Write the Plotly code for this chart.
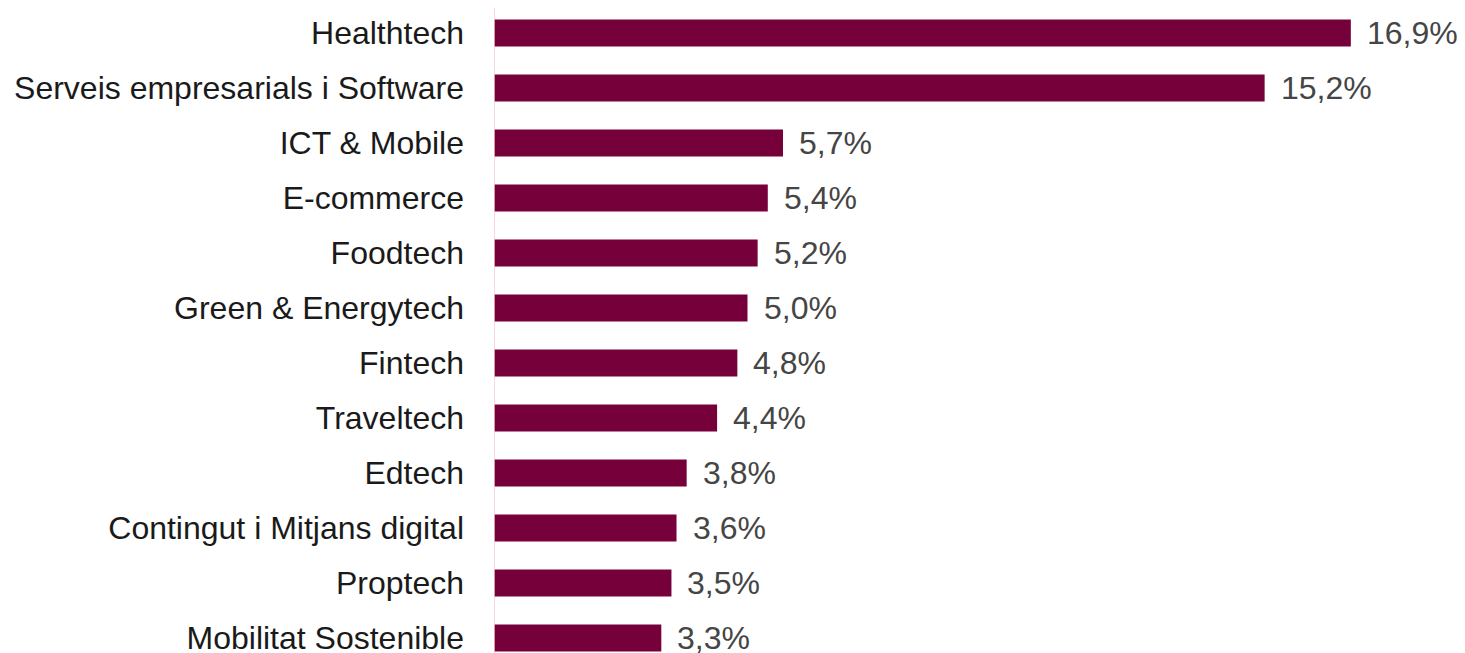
import plotly.graph_objects as go

categories = ["Healthtech", "Serveis empresarials i Software", "ICT & Mobile", "E-commerce",
              "Foodtech", "Green & Energytech", "Fintech", "Traveltech", "Edtech",
              "Contingut i Mitjans digital", "Proptech", "Mobilitat Sostenible"]
values = [16.9, 15.2, 5.7, 5.4, 5.2, 5.0, 4.8, 4.4, 3.8, 3.6, 3.5, 3.3]
value_labels = [f"{v:.1f}".replace(".", ",") + "%" for v in values]

W, H = 1457, 645
x0_px = 486
px_per_unit = 50.7
row_px = 55.0
top_center_px = 25.0
bar_color = "#76003a"

fig = go.Figure(go.Bar(
    x=values, y=categories, orientation="h",
    marker=dict(color=bar_color, line=dict(width=0)),
    width=0.49, hoverinfo="skip",
))

for c, v, t in zip(categories, values, value_labels):
    fig.add_annotation(x=v, y=c, text=t, showarrow=False, xanchor="left", yanchor="middle",
                       xshift=14, font=dict(family="Liberation Sans, Arial", size=32, color="#454545"))

fig.add_shape(type="line", xref="x", yref="paper", x0=0, x1=0, y0=0, y1=1,
              line=dict(color="#f7cdd3", width=1.5))

y_top = -top_center_px / row_px
y_bot = y_top + H / row_px

fig.update_layout(
    width=W, height=H,
    margin=dict(l=x0_px, r=0, t=0, b=0, autoexpand=False),
    plot_bgcolor="white", paper_bgcolor="white",
    showlegend=False,
    xaxis=dict(range=[0, (W - x0_px) / px_per_unit], visible=False, fixedrange=True),
    yaxis=dict(range=[y_bot, y_top], showgrid=False, zeroline=False, showline=False,
               ticks="", ticklabelstandoff=29, automargin=False,
               tickfont=dict(family="Liberation Sans, Arial", size=32, color="#1a1a1a")),
)

fig.write_html("out.html")
